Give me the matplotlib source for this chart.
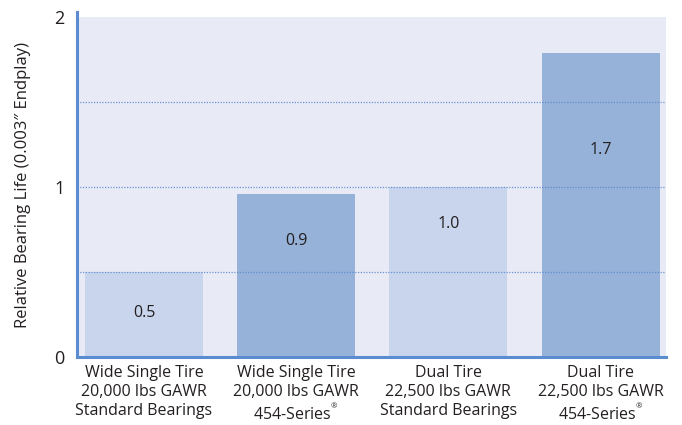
#!/usr/bin/env python3

import matplotlib.pyplot as plt

plt.rcParams['font.family'] = ['Open Sans', 'DejaVu Sans']
plt.rcParams['mathtext.fontset'] = 'custom'
plt.rcParams['mathtext.rm'] = 'Open Sans'
plt.rcParams['mathtext.it'] = 'Open Sans'

categories = [
    "Wide Single Tire\n20,000 lbs GAWR\nStandard Bearings",
    "Wide Single Tire\n20,000 lbs GAWR\n454-Series$^{^{®}}$",
    "Dual Tire\n22,500 lbs GAWR\nStandard Bearings",
    "Dual Tire\n22,500 lbs GAWR\n454-Series$^{^{®}}$",
]
life = [0.5, 0.96, 1.0, 1.79]
labels = ["0.5", "0.9", "1.0", "1.7"]
label_y = [0.26, 0.68, 0.78, 1.22]
colors = ["#c8d5ec", "#96b2d9", "#c8d5ec", "#96b2d9"]

text_color = "#231f20"
blue = "#5b8bd0"

fig = plt.figure(figsize=(6.82, 4.25), dpi=100)
ax = fig.add_axes([77/682, 68/425, (666-77)/682, 345/425])

ax.set_facecolor("white")
ax.axhspan(0, 2, color="#e8eaf6", zorder=0, lw=0)

x = range(len(categories))
ax.bar(x, life, width=0.776, color=colors, zorder=2)

for yg in [0.5, 1.0, 1.5]:
    ax.axhline(yg, color=blue, lw=0.9, ls=(0, (1, 1.2)), zorder=3, alpha=0.9)

for i, (t, yl) in enumerate(zip(labels, label_y)):
    ax.text(i, yl, t, ha="center", va="center", fontsize=11.5, color=text_color, zorder=4)

ax.set_xlim(-0.44, 3.43)
ax.set_ylim(0, 2.03)
ax.set_yticks([0, 1, 2])
ax.set_xticks(list(x))
ax.set_xticklabels(categories, fontsize=11.5, color=text_color, linespacing=1.22)
ax.tick_params(axis="both", length=0, colors=text_color)
ax.tick_params(axis="y", labelsize=13, pad=9)
ax.tick_params(axis="x", pad=6)

for s in ["top", "right"]:
    ax.spines[s].set_visible(False)
for s in ["left", "bottom"]:
    ax.spines[s].set_color(blue)
    ax.spines[s].set_linewidth(2.2)

ax.set_ylabel("Relative Bearing Life (0.003\u2033 Endplay)", fontsize=12,
              color=text_color, labelpad=17)

plt.savefig("out.png", dpi=100)
